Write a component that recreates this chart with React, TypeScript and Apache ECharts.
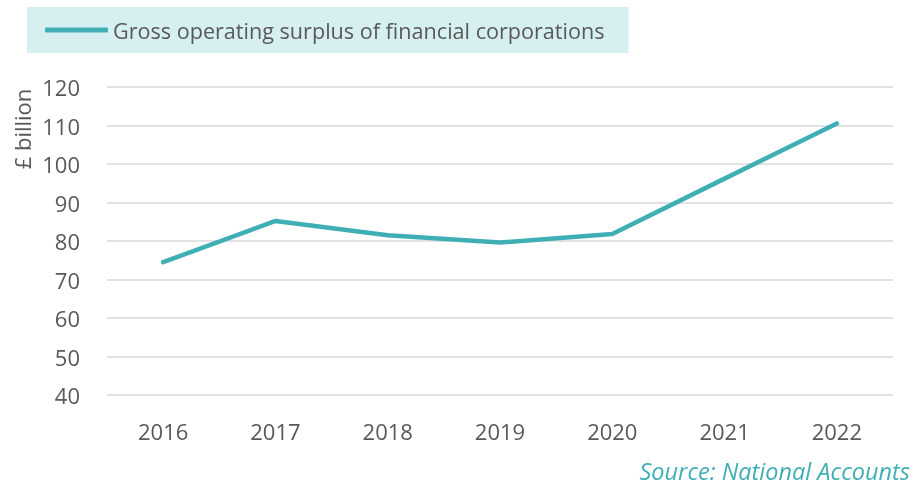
import React, { useEffect, useRef } from "react";
import * as echarts from "echarts";

const years = ["2016", "2017", "2018", "2019", "2020", "2021", "2022"];
const surplus = [74.5, 85.2, 81.5, 79.6, 81.8, 96.2, 110.5];
const seriesName = "Gross operating surplus of financial corporations";
const yAxisTitle = "£ billion";
const sourceText = "Source: National Accounts";

export default function App() {
  const ref = useRef<HTMLDivElement>(null);
  useEffect(() => {
    if (!ref.current) return;
    const chart = echarts.init(ref.current, undefined, { renderer: "svg" });
    const font = "'Open Sans', 'Noto Sans', sans-serif";
    chart.setOption({
      animation: false,
      textStyle: { fontFamily: font },
      grid: { left: 107, right: 21, top: 87, bottom: 91, containLabel: false },
      legend: {
        left: 27,
        top: 7,
        padding: [12, 24, 12, 18],
        backgroundColor: "#d6eff1",
        icon: "roundRect",
        itemWidth: 63,
        itemHeight: 5,
        textStyle: { fontSize: 21.6, color: "#595959", fontFamily: font },
        data: [seriesName],
      },
      xAxis: {
        type: "category",
        data: years,
        boundaryGap: true,
        axisLine: { show: false },
        axisTick: { show: false },
        axisLabel: { fontSize: 22, color: "#595959", margin: 25 },
      },
      yAxis: {
        type: "value",
        min: 40,
        max: 120,
        interval: 10,
        axisLine: { show: false },
        axisTick: { show: false },
        axisLabel: { fontSize: 22, color: "#595959", margin: 27 },
        splitLine: { lineStyle: { color: "#d9d9d9", width: 1.5 } },
      },
      graphic: [
        {
          type: "text",
          x: 22,
          y: 129,
          rotation: Math.PI / 2,
          style: {
            text: yAxisTitle,
            fontSize: 22,
            fill: "#595959",
            fontFamily: font,
            align: "center",
            verticalAlign: "middle",
          },
        },
        {
          type: "text",
          x: 910,
          y: 471,
          style: {
            text: sourceText,
            fontSize: 23.5,
            fontStyle: "italic",
            fill: "#40afb5",
            fontFamily: font,
            align: "right",
            verticalAlign: "middle",
          },
        },
      ],
      series: [
        {
          name: seriesName,
          type: "line",
          data: surplus,
          symbol: "none",
          itemStyle: { color: "#40afb5" },
          lineStyle: { color: "#40afb5", width: 4.5, cap: "round", join: "round" },
        },
      ],
    });
    return () => chart.dispose();
  }, []);
  return (
    <div
      ref={ref}
      style={{ position: "fixed", left: 0, top: 0, width: 914, height: 486 }}
    />
  );
}
